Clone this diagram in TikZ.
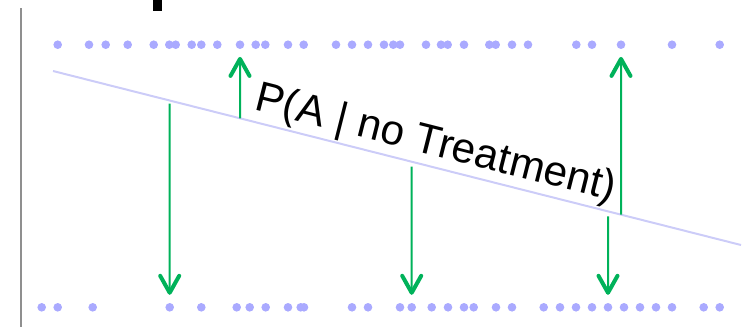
\documentclass[tikz,border=0pt]{standalone}
\usepackage{fontspec}
\setmainfont{Liberation Sans}
\usetikzlibrary{arrows.meta}

\definecolor{dotblue}{HTML}{AAAAFF}
\definecolor{fitblue}{HTML}{CCCCF8}
\definecolor{residgreen}{HTML}{00B25A}
\definecolor{axisgray}{HTML}{8F8F8F}

\begin{document}
\begin{tikzpicture}[
  x=1pt, y=-1pt,
  dot/.style={circle, fill=dotblue, inner sep=0pt, minimum size=8.6pt},
  fit/.style={fitblue, line width=2pt},
  resid/.style={residgreen, line width=2pt,
    -{Straight Barb[length=17pt, width=19pt, line width'=4pt, round]}},
  lbl/.style={font=\fontsize{42.4}{50}\selectfont, text=black, inner sep=1.5pt},
]
  \useasboundingbox (0,0) rectangle (753,327);

  % axis and the cut-off glyph above the plot
  \draw[axisgray, line width=2pt] (21,8.3) -- (21,327);
  \fill[black] (153.3,0) rectangle (162.3,10.7);

  % outcomes: top row = 1, bottom row = 0
  \foreach \x [count=\i] in {57.7,89,105.7,127.7,153.7,169.3,175.7,191.7,
      201.3,217.3,240,255.7,265.3,288,303.7,336,352,368,384,393.3,400,426,
      441,447.7,464,489.3,495.7,512,528,576.3,592,621,672,719.7}
    \node[dot] (t\i) at (\x,44.7) {};
  \foreach \x [count=\i] in {41.7,57.7,92.7,169.7,201.3,236.7,249.7,265.7,
      288,300.7,304,352,368,400,411.7,431.7,448,464,473.7,496,512,543.7,
      560,576,592,608,624,640,656,672,703.7,719.7}
    \node[dot] (b\i) at (\x,307.3) {};

  % fitted probability line
  \coordinate (fitL) at (53,71);
  \coordinate (fitR) at (741,245);
  \draw[fit] (fitL) -- (fitR)
    coordinate[pos=0.2718] (r1)
    coordinate[pos=0.8256] (r2)
    coordinate[pos=0.1696] (r3)
    coordinate[pos=0.5214] (r4)
    coordinate[pos=0.8067] (r5)
    node[lbl, sloped, above, pos=0.548] (plbl) {P(A | no Treatment)};

  % residuals
  \draw[resid, shorten >=7.7pt] (r1) -- (t11);
  \draw[resid, shorten >=7.7pt] (r2) -- (t32);
  \draw[resid, shorten <=3pt, shorten >=8pt] (r3) -- (b4);
  \draw[resid, shorten <=5pt, shorten >=8pt] (r4) -- (b15);
  \draw[resid, shorten <=5pt, shorten >=8pt] (r5) -- (b26);
\end{tikzpicture}
\end{document}
